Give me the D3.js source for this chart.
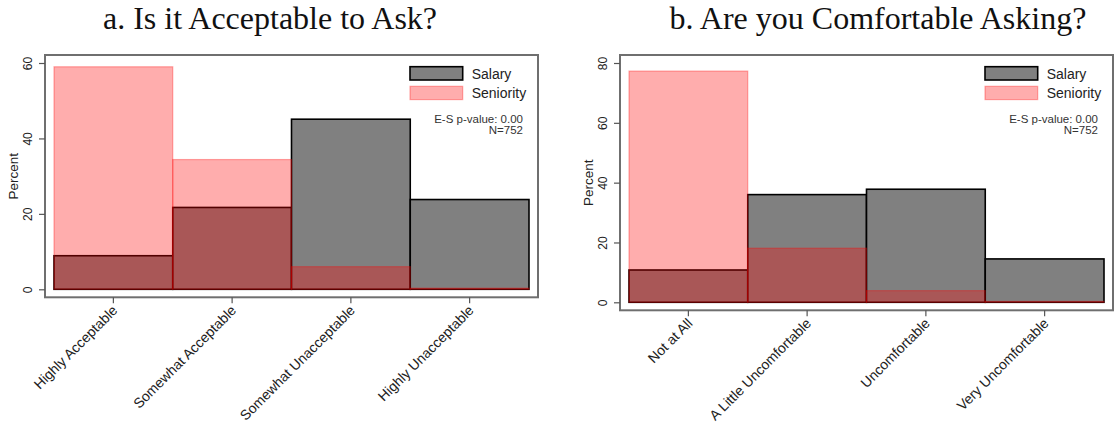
<!DOCTYPE html>
<html>
<head>
<meta charset="utf-8">
<script src="https://cdn.jsdelivr.net/npm/d3@7"></script>
<style>
  html, body { margin: 0; padding: 0; background: #fff; }
  svg { display: block; }
</style>
</head>
<body>
<svg id="chart" width="1114" height="426"></svg>
<script>
// ---------------- data ----------------
const seriesNames = ["Salary", "Seniority"];
const noteLines = ["E-S p-value: 0.00", "N=752"];

const titleA = "a. Is it Acceptable to Ask?";
const categoriesA = ["Highly Acceptable", "Somewhat Acceptable", "Somewhat Unacceptable", "Highly Unacceptable"];
const salaryA = [8.9, 21.7, 45.1, 23.8];
const seniorityA = [59.0, 34.4, 6.0, 0.3];
const ticksA = [0, 20, 40, 60];

const titleB = "b. Are you Comfortable Asking?";
const categoriesB = ["Not at All", "A Little Uncomfortable", "Uncomfortable", "Very Uncomfortable"];
const salaryB = [10.8, 36.0, 37.8, 14.5];
const seniorityB = [77.3, 18.1, 3.9, 0.3];
const ticksB = [0, 20, 40, 60, 80];

// ---------------- drawing ----------------
const svg = d3.select("#chart");
const sans = "'Liberation Sans', Arial, Helvetica, sans-serif";
const serif = "'Liberation Serif', 'Times New Roman', serif";

function panel(opts) {
  const { title, titleX, categories, salary, seniority, ticks,
          left, right, top, bottom } = opts;
  const g = svg.append("g");

  const x = d3.scaleBand().domain(categories).range([left + 9, right - 9]).padding(0);
  const y = d3.scaleLinear().domain([0, d3.max(ticks)]).range([bottom - 8, top + 8]);

  // title
  svg.append("text")
    .attr("x", titleX).attr("y", 29)
    .attr("text-anchor", "middle")
    .attr("font-family", serif).attr("font-size", 32)
    .attr("fill", "#111")
    .text(title);

  // frame
  g.append("rect")
    .attr("x", left).attr("y", top)
    .attr("width", right - left).attr("height", bottom - top)
    .attr("fill", "#fff").attr("stroke", "#6f6f6f").attr("stroke-width", 2);

  // salary bars
  g.selectAll("rect.salary").data(categories).join("rect")
    .attr("class", "salary")
    .attr("x", d => x(d)).attr("width", x.bandwidth())
    .attr("y", (d, i) => y(salary[i]))
    .attr("height", (d, i) => y(0) - y(salary[i]))
    .attr("fill", "#808080").attr("stroke", "#000").attr("stroke-width", 1.6);

  // seniority bars (translucent red on top)
  g.selectAll("rect.seniority").data(categories).join("rect")
    .attr("class", "seniority")
    .attr("x", d => x(d)).attr("width", x.bandwidth())
    .attr("y", (d, i) => y(seniority[i]))
    .attr("height", (d, i) => y(0) - y(seniority[i]))
    .attr("fill", "rgba(255,0,0,0.32)")
    .attr("stroke", "rgba(255,0,0,0.32)").attr("stroke-width", 1.2);

  // y axis
  const ya = g.append("g").attr("transform", `translate(${left},0)`)
    .call(d3.axisLeft(y).tickValues(ticks).tickSize(6).tickFormat(d3.format("d")));
  ya.select(".domain").remove();
  ya.selectAll(".tick line").attr("stroke", "#555").attr("stroke-width", 1.2);
  ya.selectAll(".tick text")
    .attr("x", 0).attr("dy", 0)
    .attr("transform", "translate(-13,0) rotate(-90)")
    .attr("text-anchor", "middle")
    .attr("font-family", sans).attr("font-size", 12).attr("fill", "#222");

  // y title
  g.append("text")
    .attr("transform", `translate(${left - 27},${(top + bottom) / 2}) rotate(-90)`)
    .attr("text-anchor", "middle")
    .attr("font-family", sans).attr("font-size", 13.5).attr("fill", "#222")
    .text("Percent");

  // x axis
  const xa = g.append("g").attr("transform", `translate(0,${bottom})`)
    .call(d3.axisBottom(x).tickSize(6));
  xa.select(".domain").remove();
  xa.selectAll(".tick line").attr("stroke", "#555").attr("stroke-width", 1.2);
  xa.selectAll(".tick text")
    .attr("x", 0).attr("y", 0).attr("dy", 0)
    .attr("transform", "translate(5,14) rotate(-45)")
    .attr("text-anchor", "end")
    .attr("font-family", sans).attr("font-size", 14).attr("fill", "#222");

  // legend
  const lx = right - 128, lw = 52.7;
  const legY = [66.7, 86.3];
  g.append("rect").attr("x", lx).attr("y", legY[0]).attr("width", lw).attr("height", 13.3)
    .attr("fill", "#808080").attr("stroke", "#000").attr("stroke-width", 1.6);
  g.append("rect").attr("x", lx).attr("y", legY[1]).attr("width", lw).attr("height", 13.3)
    .attr("fill", "rgba(255,0,0,0.32)").attr("stroke", "rgba(255,0,0,0.32)").attr("stroke-width", 1.2);
  seriesNames.forEach((s, i) => {
    g.append("text").attr("x", lx + lw + 9).attr("y", legY[i] + 11.8)
      .attr("font-family", sans).attr("font-size", 14).attr("fill", "#222")
      .text(s);
  });

  // note
  noteLines.forEach((s, i) => {
    g.append("text").attr("x", right - 15).attr("y", 123 + i * 11)
      .attr("text-anchor", "end")
      .attr("font-family", sans).attr("font-size", 11.5).attr("fill", "#333")
      .text(s);
  });
}

panel({ title: titleA, titleX: 270, categories: categoriesA, salary: salaryA,
        seniority: seniorityA, ticks: ticksA, left: 45, right: 538, top: 55, bottom: 297.3 });
panel({ title: titleB, titleX: 878, categories: categoriesB, salary: salaryB,
        seniority: seniorityB, ticks: ticksB, left: 620, right: 1113, top: 55, bottom: 310.3 });
</script>
</body>
</html>
